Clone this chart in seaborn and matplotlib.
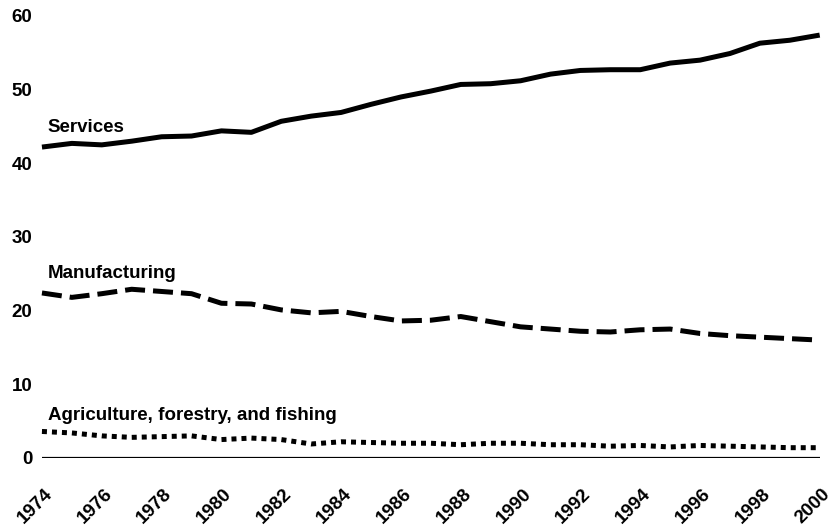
import pandas as pd
import numpy as np
import matplotlib
matplotlib.use("Agg")
import matplotlib.pyplot as plt
import matplotlib.transforms as mtransforms
import seaborn as sns

# values (percent of total)
years = list(range(1974, 2001))
services = [42.2, 42.7, 42.5, 43.0, 43.6, 43.7, 44.4, 44.2, 45.7, 46.4, 46.9, 48.0, 49.0,
            49.8, 50.7, 50.8, 51.2, 52.1, 52.6, 52.7, 52.7, 53.6, 54.0, 54.9, 56.3, 56.7, 57.4]
manufacturing = [22.4, 21.8, 22.3, 22.9, 22.6, 22.3, 21.0, 20.9, 20.1, 19.7, 19.9, 19.2, 18.6,
                 18.7, 19.2, 18.5, 17.8, 17.5, 17.2, 17.1, 17.4, 17.5, 16.9, 16.6, 16.4, 16.2, 16.0]
agriculture = [3.6, 3.4, 3.0, 2.8, 2.9, 3.0, 2.5, 2.7, 2.5, 1.9, 2.2, 2.1, 2.0,
               2.0, 1.8, 2.0, 2.0, 1.8, 1.8, 1.6, 1.7, 1.5, 1.7, 1.6, 1.5, 1.4, 1.4]
sectors = ["Services", "Manufacturing", "Agriculture, forestry, and fishing"]
label_y = [44.9, 25.1, 5.8]
xticks = list(range(1974, 2001, 2))
yticks = [0, 10, 20, 30, 40, 50, 60]

df = pd.DataFrame({
    "year": years * 3,
    "share": services + manufacturing + agriculture,
    "sector": [s for s in sectors for _ in years],
})

sns.set_style("white")
plt.rcParams["font.family"] = ["Liberation Sans", "DejaVu Sans"]
plt.rcParams["font.weight"] = "bold"
plt.rcParams["text.color"] = "black"
plt.rcParams["xtick.color"] = "black"
plt.rcParams["ytick.color"] = "black"

fig = plt.figure(figsize=(8.39, 5.31), dpi=100)
ax = fig.add_axes([0.050, 0.1375, 0.927, 0.8325])

sns.lineplot(data=df, x="year", y="share", style="sector", color="black", lw=3.6,
             dashes={sectors[0]: "", sectors[1]: (4, 1.6), sectors[2]: (1, 1)},
             legend=False, ax=ax)
for ln in ax.lines:
    ln.set_clip_on(False)
    ln.set_dash_capstyle("butt")
    ln.set_solid_capstyle("butt")

ax.axhline(0, color="black", lw=1.6, zorder=1)

for name, y in zip(sectors, label_y):
    ax.text(1974.2, y, name, fontsize=13.5, fontweight="bold", va="center", ha="left",
            color="black")

ax.set_xlim(1974, 2000)
ax.set_ylim(0, 60)
ax.set_xticks(xticks)
ax.set_xticklabels([str(x) for x in xticks], rotation=45, ha="right", va="center",
                   rotation_mode="anchor", fontsize=13.5, fontweight="bold")
ax.set_yticks(yticks)
ax.set_yticklabels([str(y) for y in yticks], fontsize=13.5, fontweight="bold")
ax.tick_params(axis="x", length=0, pad=24)
ax.tick_params(axis="y", length=0, pad=7)
shift = mtransforms.ScaledTranslation(8 / 100, 0, fig.dpi_scale_trans)
for lbl in ax.get_xticklabels():
    lbl.set_transform(lbl.get_transform() + shift)
ax.set_xlabel("")
ax.set_ylabel("")
sns.despine(ax=ax, left=True, bottom=True)

fig.savefig("out.png", dpi=100)
